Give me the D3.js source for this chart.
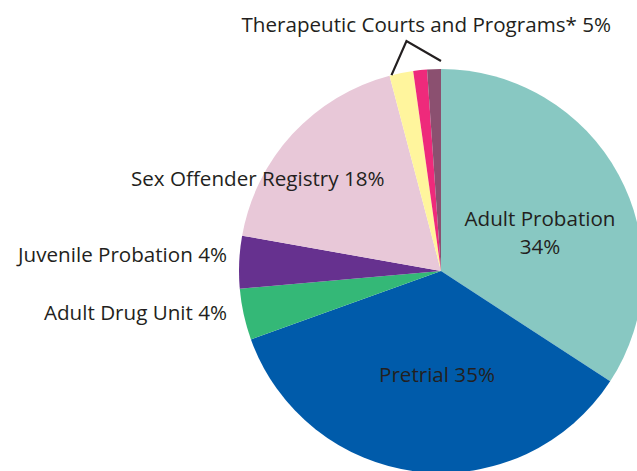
<!DOCTYPE html>
<html>
<head>
<meta charset="utf-8">
<script src="https://cdn.jsdelivr.net/npm/d3@7"></script>
<style>
  body { margin: 0; background: #fff; }
  text { font-family: "Open Sans", sans-serif; fill: #231f20; }
</style>
</head>
<body>
<svg id="chart" width="637" height="471"></svg>
<script>
// slices clockwise from 12 o'clock
var categories = ['Adult Probation', 'Pretrial', 'Adult Drug Unit', 'Juvenile Probation',
                  'Sex Offender Registry', 'Therapeutic A', 'Therapeutic B', 'Therapeutic C'];
var shares = [34.2, 35.3, 4.1, 4.2, 18.1, 1.9, 1.1, 1.1];
var colors = ['#88c8c2', '#005baa', '#34b877', '#66318f', '#e8c8d8', '#fff59d', '#ee2a7b', '#8b5070'];

var svg = d3.select('#chart');
var cx = 441, cy = 271, radius = 202;
var fontSize = 20.6;

var pie = d3.pie().sort(null).value(d => d.value);
var arcs = pie(categories.map((c, i) => ({name: c, value: shares[i], color: colors[i]})));
var arc = d3.arc().innerRadius(0).outerRadius(radius);

var g = svg.append('g').attr('transform', 'translate(' + cx + ',' + cy + ')');

g.selectAll('path')
  .data(arcs)
  .enter()
  .append('path')
  .attr('fill', d => d.data.color)
  .attr('d', arc);

// bracket over the three small therapeutic slices
var bracket_start = arcs[5].startAngle, bracket_end = arcs[7].endAngle;
var pt = (a, r) => [r * Math.sin(a), -r * Math.cos(a)];
var p1 = pt(bracket_start + 0.01, radius);
var p3 = pt(bracket_end, radius + 8);
var apex = [p1[0] + 15, 41 - cy];
g.append('polyline')
  .attr('points', [p1, apex, p3].map(p => p.join(',')).join(' '))
  .attr('fill', 'none')
  .attr('stroke', '#231f20')
  .attr('stroke-width', 2.2);

var labels = [
  {text: ['Adult Probation', '34%'], x: 540, y: 226, anchor: 'middle'},
  {text: ['Pretrial 35%'], x: 437, y: 382, anchor: 'middle'},
  {text: ['Adult Drug Unit 4%'], x: 227, y: 320, anchor: 'end'},
  {text: ['Juvenile Probation 4%'], x: 227, y: 262, anchor: 'end'},
  {text: ['Sex Offender Registry 18%'], x: 131, y: 186, anchor: 'start'},
  {text: ['Therapeutic Courts and Programs* 5%'], x: 611, y: 32, anchor: 'end'}
];

labels.forEach(l => {
  var t = svg.append('text')
    .attr('x', l.x)
    .attr('y', l.y)
    .attr('text-anchor', l.anchor)
    .attr('font-size', fontSize);
  l.text.forEach((line, i) => {
    t.append('tspan').attr('x', l.x).attr('dy', i == 0 ? 0 : 28).text(line);
  });
});
</script>
</body>
</html>
